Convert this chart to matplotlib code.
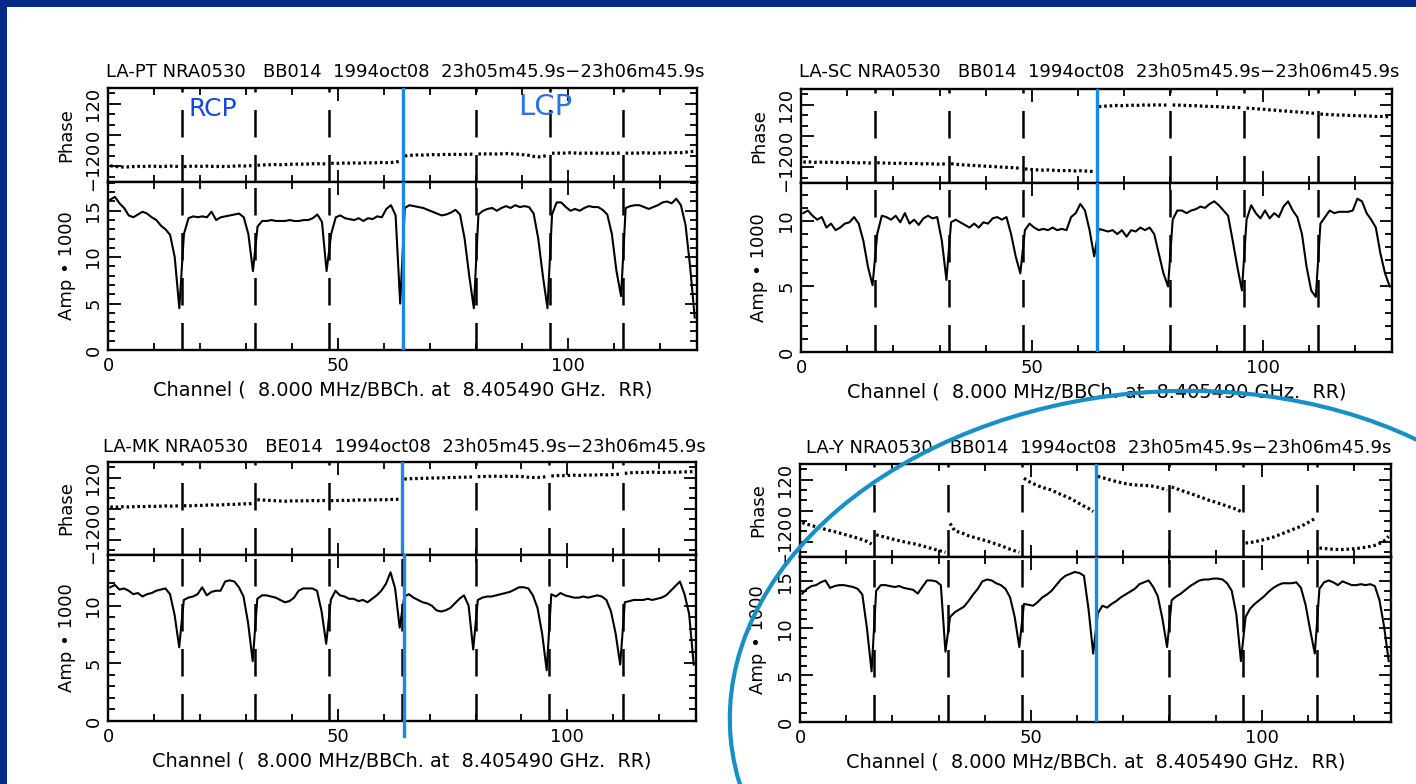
import numpy as np
import matplotlib
matplotlib.use("Agg")
import matplotlib.pyplot as plt
from matplotlib.patches import Ellipse, Rectangle
from matplotlib.ticker import MultipleLocator, FixedLocator

plt.rcParams['font.family'] = ['DejaVu Sans']

W, H = 1416, 784

# ---------------- data ----------------
n_chan = 128
bb_bounds = [16, 32, 48, 64, 80, 96, 112]      # baseband (BBC) boundaries, 16 channels each
pol_boundary = 64                              # RCP | LCP
x_ticks = [0, 50, 100]
phase_ticks = [-120, 0, 120]
amp_ticks = [0, 5, 10, 15]

baselines = ["LA-PT", "LA-SC", "LA-MK", "LA-Y"]
experiments = ["BB014", "BB014", "BE014", "BB014"]
source = "NRA0530"
date = "1994oct08"
timerange = "23h05m45.9s\u221223h06m45.9s"
xlabel_text = "Channel (  8.000 MHz/BBCh. at  8.405490 GHz.  RR)"

amp_la_pt = [
    16.2, 16.5, 15.8, 15.3, 14.5, 14.3, 14.6, 14.9, 14.7, 14.3, 14.0, 13.4, 13.0, 12.4, 10.0, 4.5,
    12.5, 14.2, 14.4, 14.3, 14.4, 14.3, 14.9, 14.0, 14.3, 14.4, 14.5, 14.6, 14.7, 14.3, 12.5, 8.5,
    13.3, 13.9, 13.9, 14.0, 13.9, 13.9, 13.9, 14.0, 13.9, 13.9, 14.0, 14.0, 14.2, 14.6, 13.8, 8.5,
    12.5, 14.3, 14.5, 14.2, 14.1, 14.0, 14.2, 13.9, 14.2, 14.1, 14.4, 14.3, 15.2, 15.6, 14.5, 5.0,
    15.3, 15.6, 15.5, 15.4, 15.3, 15.1, 14.9, 14.7, 14.5, 14.6, 14.8, 15.1, 14.6, 12.0, 8.0, 4.5,
    14.6, 15.0, 15.2, 15.3, 15.0, 15.3, 15.5, 15.3, 15.6, 15.4, 15.5, 15.4, 14.7, 12.0, 8.0, 4.5,
    14.6, 15.9, 15.9, 15.4, 15.0, 15.2, 15.0, 15.3, 15.5, 15.4, 15.4, 15.1, 14.6, 12.5, 8.5, 5.8,
    15.3, 15.5, 15.6, 15.6, 15.4, 15.2, 15.4, 15.6, 15.9, 16.0, 15.8, 16.3, 15.6, 13.5, 9.0, 3.5,
]
amp_la_sc = [
    10.6, 10.8, 10.4, 10.1, 10.3, 9.5, 9.8, 9.3, 9.5, 9.8, 9.9, 10.3, 9.8, 8.5, 6.5, 5.1,
    9.0, 10.4, 10.3, 10.1, 10.4, 9.9, 10.6, 9.8, 10.1, 9.7, 10.2, 10.4, 10.2, 10.3, 8.5, 5.5,
    9.9, 10.1, 9.9, 9.7, 9.5, 9.8, 9.5, 9.9, 9.8, 10.2, 10.3, 10.1, 10.3, 9.0, 7.3, 6.0,
    9.3, 9.8, 9.5, 9.3, 9.4, 9.3, 9.5, 9.3, 9.4, 9.3, 10.3, 10.6, 11.3, 10.8, 9.3, 7.3,
    9.4, 9.3, 9.2, 9.3, 9.0, 9.3, 8.8, 9.3, 9.2, 9.5, 9.3, 9.5, 9.0, 7.5, 6.0, 5.0,
    10.1, 10.8, 10.8, 10.6, 10.8, 10.9, 11.1, 11.0, 11.3, 11.5, 11.2, 10.8, 10.4, 8.5, 6.5, 4.7,
    10.1, 11.2, 10.6, 10.2, 10.8, 10.2, 10.6, 10.3, 11.1, 11.5, 10.8, 10.3, 9.0, 6.5, 4.7, 4.2,
    9.8, 10.3, 10.8, 10.6, 10.7, 10.7, 10.7, 10.8, 11.7, 11.5, 10.6, 10.1, 9.5, 7.5, 6.0, 5.0,
]
amp_la_mk = [
    11.6, 11.8, 11.4, 11.5, 11.3, 11.0, 11.1, 10.8, 11.0, 11.1, 11.3, 11.4, 11.5, 11.0, 9.2, 6.4,
    10.5, 10.7, 10.8, 11.0, 11.6, 10.9, 11.2, 11.3, 11.3, 12.1, 12.2, 12.1, 11.6, 10.8, 8.5, 5.2,
    10.6, 10.9, 10.9, 10.8, 10.7, 10.5, 10.3, 10.4, 10.7, 11.3, 11.5, 11.5, 11.5, 11.3, 9.5, 6.7,
    10.5, 11.3, 10.9, 10.8, 10.6, 10.6, 10.4, 10.5, 10.3, 10.6, 10.9, 11.3, 11.9, 12.9, 11.5, 8.1,
    10.8, 11.0, 10.7, 10.5, 10.3, 10.2, 10.0, 9.6, 9.5, 9.6, 9.8, 10.2, 10.6, 10.9, 10.0, 6.2,
    10.5, 10.7, 10.8, 10.8, 10.9, 11.0, 11.1, 11.2, 11.4, 11.6, 11.6, 11.5, 10.9, 9.8, 7.6, 4.4,
    11.0, 10.8, 11.1, 10.9, 10.8, 10.7, 10.7, 10.8, 10.7, 10.8, 10.9, 10.8, 10.5, 9.5, 7.6, 4.9,
    10.3, 10.4, 10.5, 10.5, 10.5, 10.6, 10.5, 10.6, 10.7, 10.9, 11.3, 11.7, 12.1, 11.0, 9.3, 4.9,
]
amp_la_y = [
    13.7, 14.2, 14.5, 14.6, 14.9, 15.1, 14.3, 14.5, 14.6, 14.6, 14.5, 14.4, 14.2, 13.6, 10.0, 5.4,
    14.0, 14.6, 14.6, 14.5, 14.4, 14.5, 14.3, 14.2, 14.1, 13.7, 14.4, 15.1, 15.1, 15.0, 14.6, 7.5,
    11.2, 11.7, 12.0, 12.3, 12.9, 13.6, 14.2, 15.0, 15.2, 15.1, 14.8, 14.6, 14.2, 13.3, 11.2, 8.0,
    12.6, 12.5, 12.4, 12.8, 13.3, 13.6, 14.0, 14.6, 15.2, 15.6, 15.8, 16.0, 15.9, 15.6, 12.0, 7.3,
    11.6, 12.4, 12.2, 12.6, 12.9, 13.3, 13.6, 13.9, 14.2, 14.7, 14.9, 15.1, 14.4, 13.4, 11.0, 8.0,
    13.0, 13.4, 13.7, 14.1, 14.5, 14.8, 15.1, 15.2, 15.2, 15.3, 15.3, 15.2, 14.8, 14.0, 11.5, 6.5,
    11.2, 12.1, 12.6, 13.0, 13.4, 13.9, 14.3, 14.6, 14.8, 14.8, 14.8, 14.9, 14.3, 12.5, 9.8, 7.3,
    14.2, 14.9, 15.1, 14.9, 14.6, 15.0, 14.8, 14.6, 14.6, 14.7, 14.6, 14.7, 14.5, 13.0, 10.2, 6.5,
]

phase_la_pt = [
    -118, -120, -122, -123, -122, -121, -120, -121, -120, -119, -120, -121, -120, -119, -120, -121,
    -121, -120, -119, -120, -120, -119, -120, -121, -120, -121, -120, -119, -118, -119, -118, -117,
    -116, -115, -114, -114, -113, -114, -113, -112, -112, -111, -112, -111, -110, -110, -111, -110,
    -108, -109, -108, -107, -108, -107, -108, -107, -106, -107, -106, -105, -106, -105, -104, -100,
    -80, -78, -77, -76, -77, -76, -75, -76, -75, -74, -75, -74, -75, -74, -73, -74,
    -73, -72, -73, -72, -73, -72, -71, -72, -73, -74, -76, -78, -82, -84, -82, -78,
    -70, -69, -70, -69, -68, -69, -70, -69, -70, -69, -70, -69, -70, -70, -69, -70,
    -70, -69, -70, -69, -68, -69, -70, -69, -68, -69, -68, -67, -68, -66, -64, -62,
]
phase_la_sc = [
    -100, -99, -100, -101, -100, -101, -100, -102, -101, -102, -101, -102, -103, -102, -103, -104,
    -102, -103, -104, -104, -105, -104, -105, -106, -105, -106, -107, -106, -107, -108, -107, -108,
    -106, -108, -110, -111, -112, -113, -114, -115, -116, -117, -118, -119, -120, -121, -122, -124,
    -126, -128, -129, -130, -131, -130, -131, -132, -133, -132, -133, -134, -133, -134, -135, -136,
    112, 114, 115, 116, 117, 116, 117, 118, 117, 118, 119, 118, 119, 119, 118, 119,
    119, 118, 118, 117, 116, 116, 115, 114, 113, 113, 112, 111, 110, 110, 109, 108,
    107, 106, 104, 103, 102, 100, 99, 97, 96, 95, 93, 92, 91, 89, 88, 86,
    84, 83, 82, 81, 80, 80, 79, 78, 78, 77, 77, 76, 75, 75, 74, 74,
]
phase_la_mk = [
    6, 5, 6, 7, 6, 7, 8, 7, 8, 9, 8, 9, 10, 9, 10, 10,
    11, 10, 11, 12, 12, 13, 14, 13, 14, 15, 16, 16, 17, 18, 18, 20,
    34, 33, 32, 31, 30, 29, 28, 29, 30, 29, 30, 30, 31, 30, 31, 31,
    30, 31, 31, 32, 31, 32, 33, 32, 33, 34, 33, 34, 34, 35, 35, 36,
    114, 115, 116, 116, 117, 117, 118, 118, 119, 119, 120, 120, 121, 121, 122, 122,
    123, 124, 124, 125, 125, 124, 125, 124, 125, 124, 123, 121, 120, 120, 121, 124,
    126, 127, 128, 127, 128, 129, 128, 129, 130, 129, 130, 131, 130, 131, 132, 133,
    136, 138, 139, 140, 139, 140, 141, 140, 139, 140, 141, 140, 141, 142, 142, 143,
]
phase_la_y = [
    -47, -53, -58, -63, -68, -73, -78, -82, -87, -92, -97, -102, -107, -113, -120, -130,
    -94, -99, -104, -108, -113, -117, -121, -125, -128, -132, -137, -142, -147, -152, -157, -162,
    -50, -78, -84, -90, -98, -103, -108, -113, -118, -124, -130, -136, -143, -150, -156, -162,
    125, 113, 104, 96, 89, 84, 79, 70, 62, 55, 47, 37, 27, 17, 8, -4,
    132, 127, 122, 117, 112, 108, 104, 101, 99, 98, 97, 96, 94, 90, 85, 78,
    91, 85, 78, 72, 66, 60, 53, 47, 40, 35, 29, 23, 17, 11, 5, -4,
    -126, -124, -121, -117, -113, -108, -103, -96, -89, -82, -75, -68, -61, -52, -42, -31,
    -145, -147, -149, -150, -151, -151, -150, -149, -147, -145, -142, -139, -135, -128, -118, -100,
]

amps = [amp_la_pt, amp_la_sc, amp_la_mk, amp_la_y]
phases = [phase_la_pt, phase_la_sc, phase_la_mk, phase_la_y]

# ---------------- layout (pixels) ----------------
panel_x = [(108, 697), (801, 1392), (108, 696), (800, 1391)]
panel_phase_y = [(88, 182), (89, 183), (462, 555), (464, 557)]
panel_amp_y = [(182, 350), (183, 352), (555, 721), (557, 722)]
amp_top = [18.1, 12.9, 14.4, 17.6]
title_y = [72, 72, 447, 448]

def frac(x1, x2, y1, y2):
    return [x1 / W, 1 - y2 / H, (x2 - x1) / W, (y2 - y1) / H]

fig = plt.figure(figsize=(W / 100, H / 100), dpi=100)
fig.patch.set_facecolor('#00298b')

bg = fig.add_axes([0, 0, 1, 1], zorder=-10)
bg.set_xlim(0, W); bg.set_ylim(H, 0); bg.axis('off')
bg.add_patch(Rectangle((7, 7), W, H, facecolor='white', edgecolor='none'))

chan = np.arange(n_chan) + 0.5
FS = 13
blue_pen = '#1a88e4'

for i in range(4):
    x1, x2 = panel_x[i]
    axp = fig.add_axes(frac(x1, x2, *panel_phase_y[i]))
    axa = fig.add_axes(frac(x1, x2, *panel_amp_y[i]))
    ph = np.array(phases[i], dtype=float)
    am = np.array(amps[i], dtype=float)

    # phase: dotted per baseband
    edges = [0] + bb_bounds + [n_chan]
    for a, b in zip(edges[:-1], edges[1:]):
        axp.plot(chan[a:b], ph[a:b], color='k', lw=2.3,
                 ls=(0, (0.8, 0.9)), dash_capstyle='butt')
    axa.plot(chan, am, color='k', lw=1.5)

    for ax in (axp, axa):
        for b in bb_bounds:
            ax.axvline(b, color='k', lw=1.8, ls=(0, (11, 7)))
        ax.set_xlim(0, n_chan)
        ax.xaxis.set_major_locator(FixedLocator(x_ticks))
        ax.xaxis.set_minor_locator(MultipleLocator(10))
        ax.tick_params(which='both', direction='in', top=True, right=True,
                       width=1.3, labelsize=FS)
        ax.tick_params(which='major', length=9)
        ax.tick_params(which='minor', length=5)
        for s in ax.spines.values():
            s.set_linewidth(1.7)

    # blue pen line at polarization boundary
    axp.axvline(pol_boundary, color=blue_pen, lw=2.4, zorder=6)
    if i == 2:
        axa.axvline(pol_boundary + 0.4, ymin=-0.09, ymax=1, color=blue_pen, lw=2.4,
                    zorder=6, clip_on=False)
    else:
        axa.axvline(pol_boundary, color=blue_pen, lw=2.4, zorder=6)

    axp.set_ylim(-180, 180)
    axp.yaxis.set_major_locator(FixedLocator(phase_ticks))
    axp.yaxis.set_minor_locator(MultipleLocator(40))
    axp.tick_params(axis='x', labelbottom=False)
    axp.tick_params(axis='y', labelrotation=90, pad=4)
    for t in axp.get_yticklabels():
        t.set_verticalalignment('center')

    axa.set_ylim(0, amp_top[i])
    axa.yaxis.set_major_locator(FixedLocator(amp_ticks))
    axa.yaxis.set_minor_locator(MultipleLocator(1))
    axa.tick_params(axis='y', labelrotation=90, pad=4)
    axa.tick_params(axis='x', pad=5)
    for t in axa.get_yticklabels():
        t.set_verticalalignment('center')

    axp.set_ylabel("Phase", fontsize=FS)
    axa.set_ylabel("Amp \u2022 1000", fontsize=FS)
    axp.yaxis.set_label_coords(-0.055, 0.5)
    axa.yaxis.set_label_coords(-0.055, 0.5)
    axa.set_xlabel(xlabel_text, fontsize=13.9, labelpad=4)

    title = f"{baselines[i]} {source}   {experiments[i]}  {date}  {timerange}"
    fig.text((x1 + x2) / 2 / W + 0.002, 1 - title_y[i] / H, title, ha='center', va='center',
             fontsize=FS)

# handwritten annotations
fig.text(213 / W, 1 - 109 / H, "RCP", color='#1844e0', fontsize=18,
         family='DejaVu Sans', ha='center', va='center')
fig.text(545 / W, 1 - 107 / H, "LCP", color='#2a72e8', fontsize=21,
         family='DejaVu Sans', ha='center', va='center')

# overlay: hand-drawn circle around LA-Y panel
ov = fig.add_axes([0, 0, 1, 1], zorder=20)
ov.set_xlim(0, W); ov.set_ylim(H, 0); ov.axis('off')
ov.add_patch(Ellipse((1162, 700), 866, 616, angle=-5, fill=False,
                     edgecolor='#1790c6', lw=3.0))

fig.savefig("out.png", dpi=100, facecolor=fig.get_facecolor())
